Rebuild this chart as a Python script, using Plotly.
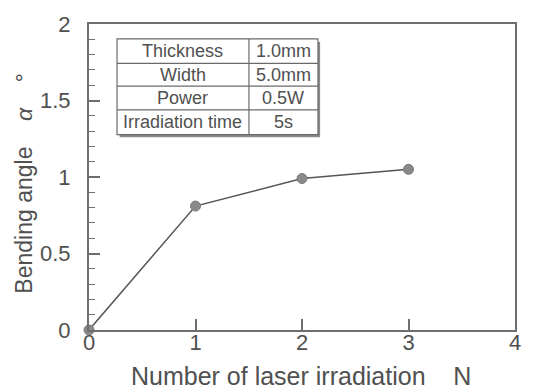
import plotly.graph_objects as go

# Bending angle after repeated laser irradiation
n_irradiation = [0, 1, 2, 3]
bending_angle = [0.0, 0.81, 0.99, 1.05]

x_ticks = [0, 1, 2, 3, 4]
x_tick_text = ["0", "1", "2", "3", "4"]
y_ticks = [0, 0.5, 1, 1.5, 2]
y_tick_text = ["0", "0.5", "1", "1.5", "2"]

# Test condition table
cond_names = ["Thickness", "Width", "Power", "Irradiation time"]
cond_values = ["1.0mm", "5.0mm", "0.5W", "5s"]

FONT = "Liberation Sans, Arial, sans-serif"
TXT = "#505050"
AX = "#6e6e6e"
SP = "&nbsp;" * 4

fig = go.Figure()
fig.add_trace(go.Scatter(
    x=n_irradiation, y=bending_angle, mode="lines+markers",
    line=dict(color="#555555", width=1.5),
    marker=dict(size=10, color="#8a8a8a", line=dict(color="#7a7a7a", width=1)),
    cliponaxis=False, showlegend=False,
))

# table geometry in data units
tx0, tx1, tx2 = 0.263, 1.502, 2.150
row_edges = [1.903, 1.742, 1.594, 1.439, 1.277]

shapes = []
# drop shadow
shapes.append(dict(type="rect", xref="x", yref="y", x0=tx0 + 0.025, x1=tx2 + 0.02,
                   y0=row_edges[-1] - 0.018, y1=row_edges[0] - 0.02,
                   line=dict(width=0), fillcolor="#8c8c8c", layer="above"))
shapes.append(dict(type="rect", xref="x", yref="y", x0=tx0, x1=tx2,
                   y0=row_edges[-1], y1=row_edges[0],
                   line=dict(color="#6a6a6a", width=1.2), fillcolor="white", layer="above"))
shapes.append(dict(type="line", xref="x", yref="y", x0=tx1, x1=tx1,
                   y0=row_edges[-1], y1=row_edges[0],
                   line=dict(color="#6a6a6a", width=1.2), layer="above"))
for yy in row_edges[1:-1]:
    shapes.append(dict(type="line", xref="x", yref="y", x0=tx0, x1=tx2, y0=yy, y1=yy,
                       line=dict(color="#6a6a6a", width=1.2), layer="above"))

annotations = []
for i, (name, val) in enumerate(zip(cond_names, cond_values)):
    yc = (row_edges[i] + row_edges[i + 1]) / 2
    annotations.append(dict(x=(tx0 + tx1) / 2, y=yc, xref="x", yref="y", text=name,
                            xanchor="center", yanchor="middle",
                            showarrow=False, font=dict(family=FONT, size=18, color=TXT)))
    annotations.append(dict(x=(tx1 + tx2) / 2, y=yc, xref="x", yref="y", text=val,
                            xanchor="center", yanchor="middle",
                            showarrow=False, font=dict(family=FONT, size=18, color=TXT)))

# axis titles
annotations.append(dict(x=0.498, y=-0.150, xref="paper", yref="paper",
                        xanchor="center", yanchor="middle",
                        text="Number of laser irradiation" + SP + "N", showarrow=False,
                        font=dict(family=FONT, size=25, color=TXT)))
annotations.append(dict(x=-0.153, y=0.481, xref="paper", yref="paper", textangle=-90,
                        xanchor="center", yanchor="middle",
                        text="Bending angle" + SP + "<i>α</i>" + SP + "°",
                        showarrow=False, font=dict(family=FONT, size=23, color=TXT)))

fig.update_layout(
    width=533, height=389,
    margin=dict(l=89, r=18, t=20, b=59),
    paper_bgcolor="white", plot_bgcolor="white",
    shapes=shapes, annotations=annotations,
    xaxis=dict(range=[0, 4], tickvals=x_ticks, ticktext=x_tick_text,
               ticks="inside", ticklen=11, tickwidth=1.5, tickcolor=AX,
               showline=True, mirror=True, linecolor=AX, linewidth=2,
               showgrid=False, zeroline=False, ticklabelstandoff=-8,
               tickfont=dict(family=FONT, size=22, color=TXT)),
    yaxis=dict(range=[0, 2], tickvals=y_ticks, ticktext=y_tick_text,
               ticks="inside", ticklen=11, tickwidth=1.5, tickcolor=AX,
               minor=dict(dtick=0.1, ticks="inside", ticklen=6, tickwidth=1.2, tickcolor=AX),
               showline=True, mirror=True, linecolor=AX, linewidth=2,
               showgrid=False, zeroline=False, ticklabelstandoff=12,
               tickfont=dict(family=FONT, size=22, color=TXT)),
)

fig.write_html("out.html")
